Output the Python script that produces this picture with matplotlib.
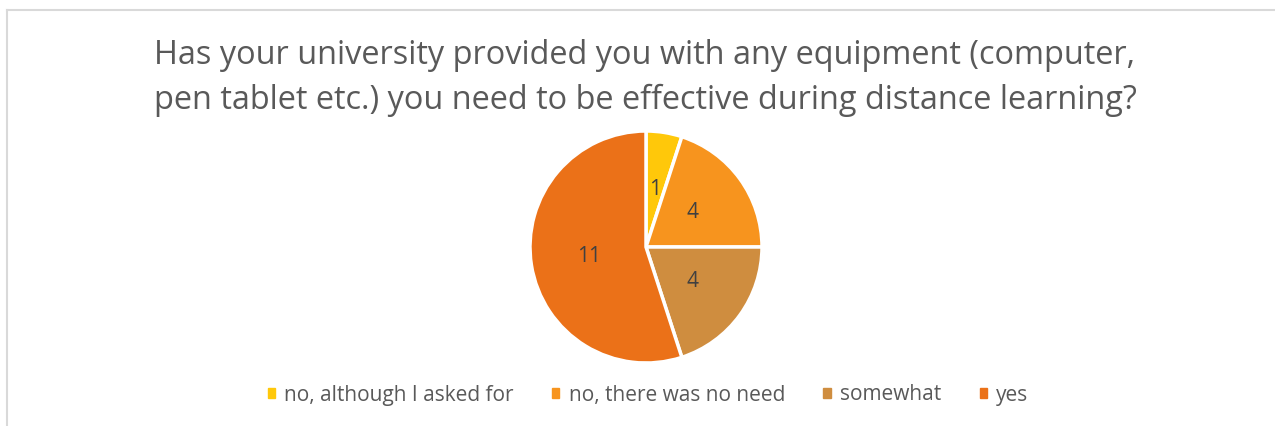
import matplotlib.pyplot as plt
from matplotlib.lines import Line2D

# answers and counts
categories = ["no, although I asked for", "no, there was no need", "somewhat", "yes"]
counts = [1, 4, 4, 11]
colors = ["#FFC80A", "#F7941E", "#CF8D3F", "#EB7118"]

title_lines = [
    "Has your university provided you with any equipment (computer,",
    "pen tablet etc.) you need to be effective during distance learning?",
]

plt.rcParams["font.family"] = ["Open Sans", "DejaVu Sans"]
text_color = "#595959"

W, H = 1275, 426
fig = plt.figure(figsize=(W / 100, H / 100), dpi=100)

# light frame of the chart area (top and left edges visible)
fig.add_artist(Line2D([7 / W, 7 / W], [0, 1 - 10 / H], transform=fig.transFigure,
                      color="#D9D9D9", lw=1.5))
fig.add_artist(Line2D([7 / W, 1], [1 - 10 / H, 1 - 10 / H], transform=fig.transFigure,
                      color="#D9D9D9", lw=1.5))

for line, base in zip(title_lines, [64, 109]):
    fig.text(645 / W, 1 - base / H, line, ha="center", va="baseline",
             fontsize=23.4, color=text_color)

cx, cy, r = 646, 247, 116
ax = fig.add_axes([(cx - r) / W, 1 - (cy + r) / H, 2 * r / W, 2 * r / H])
wedges, texts = ax.pie(counts, colors=colors, startangle=90, counterclock=False,
                       labels=[str(c) for c in counts], labeldistance=0.5,
                       wedgeprops=dict(edgecolor="white", linewidth=2.5),
                       textprops=dict(color="#404040", fontsize=15))
for t in texts:
    t.set_ha("center")
    t.set_va("center")
ax.set_xlim(-1.0, 1.0)
ax.set_ylim(-1.0, 1.0)
ax.set_aspect("equal")

handles = [plt.Rectangle((0, 0), 1, 1, color=c) for c in colors]
fig.legend(handles, categories, loc="center", bbox_to_anchor=(648 / W, 1 - 395 / H),
           ncol=4, frameon=False, fontsize=15, labelcolor=text_color,
           handlelength=0.34, handleheight=0.34, handletextpad=0.45,
           columnspacing=1.85, borderpad=0, borderaxespad=0)

fig.savefig("out.png", dpi=100)
